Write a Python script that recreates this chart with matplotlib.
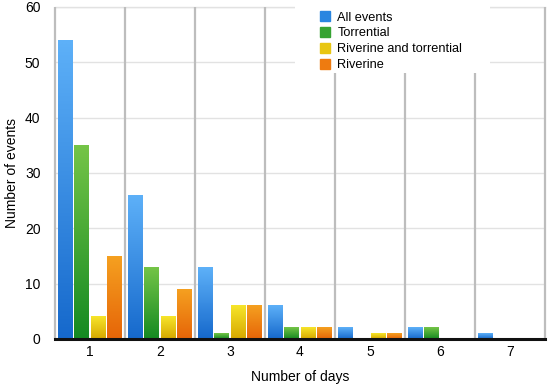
import numpy as np
import matplotlib
matplotlib.use("Agg")
import matplotlib.pyplot as plt
from matplotlib.colors import LinearSegmentedColormap

plt.rcParams['font.family'] = ['Liberation Sans', 'DejaVu Sans']

days = [1, 2, 3, 4, 5, 6, 7]
series_names = ["All events", "Torrential", "Riverine and torrential", "Riverine"]
all_events = [54, 26, 13, 6, 2, 2, 1]
torrential = [35, 13, 1, 2, 0, 2, 0]
riv_torr = [4, 4, 6, 2, 1, 0, 0]
riverine = [15, 9, 6, 2, 1, 0, 0]
series = [all_events, torrential, riv_torr, riverine]

# (top colour, bottom colour)
grads = [("#5db0f8", "#1669cc"),
         ("#74c447", "#158a22"),
         ("#f7e52a", "#d6a800"),
         ("#f5a020", "#e66508")]
solid = ["#2a86e0", "#36a332", "#e8c612", "#ee7b10"]

fig = plt.figure(figsize=(5.5, 3.86), dpi=100)
ax = fig.add_axes([55/550, 1-339/386, 490/550, 332/386])

x = np.arange(len(days)) + 1
width = 0.212
step = 0.236
offsets = (np.arange(4) - 1.5) * step

for i, vals in enumerate(series):
    bars = ax.bar(x + offsets[i], vals, width=width, color="none",
                  edgecolor="none", zorder=3)
    cmap = LinearSegmentedColormap.from_list("g%d" % i, [grads[i][1], grads[i][0]])
    grad = np.linspace(0, 1, 64).reshape(-1, 1)
    for b in bars:
        h = b.get_height()
        if h <= 0:
            continue
        ax.imshow(grad, cmap=cmap, origin="lower", aspect="auto",
                  extent=(b.get_x(), b.get_x() + b.get_width(), 0, h),
                  zorder=3, interpolation="bilinear")

ax.set_xlim(0.5, 7.5)
ax.set_ylim(0, 60)
ax.set_xticks(x)
ax.set_xticklabels([str(d) for d in days])
ax.set_yticks(np.arange(0, 61, 10))
ax.tick_params(axis='both', which='both', length=0, labelsize=10)
ax.tick_params(axis='x', pad=4)
ax.tick_params(axis='y', pad=10.5)
ax.set_axisbelow(True)
ax.grid(axis='y', which='major', color="#e2e2e2", lw=1)
ax.grid(axis='x', visible=False)
ax.vlines(np.arange(0.5, 8.0, 1.0), 0, 60, color="#bdbdbd", lw=1.6,
          zorder=1, clip_on=False)
ax.axhline(60, color="#e2e2e2", lw=1, zorder=0.9, clip_on=False)
for s in ['top', 'left', 'right']:
    ax.spines[s].set_visible(False)
ax.spines['bottom'].set_color("#111111")
ax.spines['bottom'].set_linewidth(2.2)
ax.spines['bottom'].set_zorder(5)

ax.set_xlabel("Number of days", fontsize=10, labelpad=8)
ax.set_ylabel("Number of events", fontsize=10)
ax.yaxis.set_label_coords(-0.073, 0.5)

# white box behind legend
ax.add_patch(plt.Rectangle((0.49, 0.802), 0.398, 0.2, transform=ax.transAxes,
                           facecolor='white', edgecolor='none', zorder=4,
                           clip_on=False))

handles = [plt.Rectangle((0, 0), 1, 1, color=c) for c in solid]
leg = ax.legend(handles, series_names, loc='upper left', bbox_to_anchor=(0.532, 1.0),
                frameon=False, fontsize=9.2, handlelength=0.8, handleheight=0.9,
                handletextpad=0.6, labelspacing=0.25, borderpad=0.3,
                borderaxespad=0)
leg.set_zorder(10)

fig.savefig("out.png", dpi=100)
